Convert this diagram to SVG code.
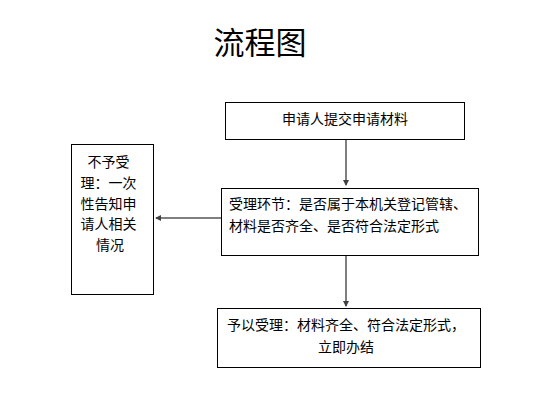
<svg xmlns="http://www.w3.org/2000/svg" width="559" height="418" viewBox="0 0 559 418">
<style>
.box{fill:#fff;stroke:#000;stroke-width:1}
.t{font-family:"Noto Sans CJK SC","Liberation Sans",sans-serif;font-size:14px;fill:#000}
.title{font-family:"Noto Sans CJK SC","Liberation Sans",sans-serif;font-size:31px;fill:#000}
.c{stroke:#7f7f7f;stroke-width:2;fill:none;marker-end:url(#ah)}
</style>
<defs>
<marker id="ah" viewBox="0 0 6 6" refX="5" refY="3" markerWidth="3" markerHeight="3" orient="auto" markerUnits="strokeWidth">
<path d="M0,0 L6,3 L0,6 z" fill="#404040"/>
</marker>
</defs>
<rect width="559" height="418" fill="#fff"/>
<text class="title" x="260" y="54" text-anchor="middle">流程图</text>
<g id="connectors">
<line class="c" x1="346" y1="139" x2="346" y2="185"/>
<line class="c" x1="221" y1="218" x2="156" y2="218"/>
<line class="c" x1="346" y1="256" x2="346" y2="306"/>
</g>
<g id="n1">
<rect class="box" x="225.500" y="102.500" width="239" height="37"/>
<text class="t" x="345" y="124" text-anchor="middle">申请人提交申请材料</text>
</g>
<g id="n2">
<rect class="box" x="221.500" y="188.500" width="257" height="67"/>
<text class="t" x="229" y="209">受理环节：是否属于本机关登记管辖、</text>
<text class="t" x="229" y="231">材料是否齐全、是否符合法定形式</text>
</g>
<g id="n3">
<rect class="box" x="71.500" y="144.500" width="82" height="150"/>
<text class="t" text-anchor="middle">
<tspan x="110" y="167">不予受</tspan>
<tspan x="110" y="188">理：一次</tspan>
<tspan x="110" y="209">性告知申</tspan>
<tspan x="110" y="229">请人相关</tspan>
<tspan x="110" y="250">情况</tspan>
</text>
</g>
<g id="n4">
<rect class="box" x="217.500" y="308.500" width="263" height="59"/>
<text class="t" x="346" y="330" text-anchor="middle">予以受理：材料齐全、符合法定形式，</text>
<text class="t" x="346" y="352" text-anchor="middle">立即办结</text>
</g>
</svg>
